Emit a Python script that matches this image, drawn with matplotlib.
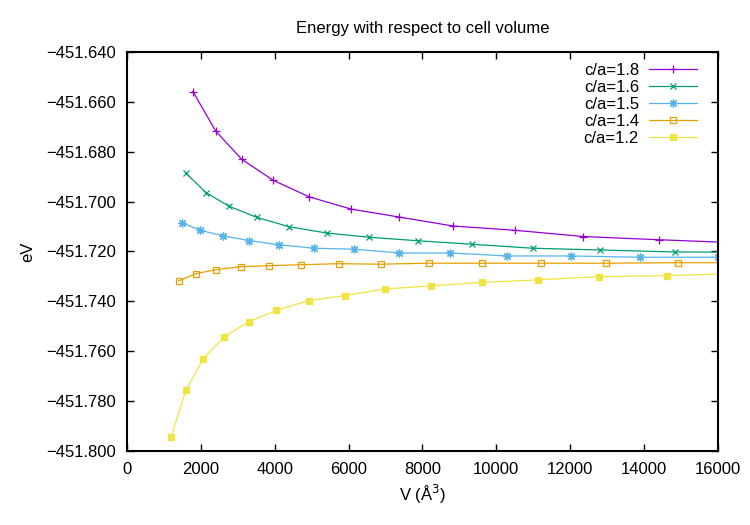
import matplotlib
matplotlib.use("Agg")
import matplotlib.pyplot as plt
from matplotlib.ticker import FuncFormatter, MultipleLocator

plt.rcParams["font.family"] = ["Liberation Sans", "DejaVu Sans"]

# cell volume (A^3) and energy (eV) per c/a ratio
v_18 = [1787, 2401, 3105, 3952, 4935, 6064, 7371, 8833, 10503, 12352, 14410, 16500]
e_18 = [-451.6559, -451.6717, -451.6830, -451.6914, -451.6981, -451.7030,
        -451.7062, -451.7098, -451.7115, -451.7140, -451.7153, -451.7165]

v_16 = [1589, 2139, 2770, 3511, 4394, 5406, 6560, 7870, 9332, 10983, 12806, 14828, 16900]
e_16 = [-451.6885, -451.6964, -451.7019, -451.7063, -451.7101, -451.7126,
        -451.7143, -451.7157, -451.7171, -451.7187, -451.7194, -451.7202, -451.7203]

v_15 = [1497, 1984, 2591, 3295, 4115, 5071, 6154, 7372, 8745, 10296, 12012, 13897, 15992]
e_15 = [-451.7085, -451.7115, -451.7137, -451.7156, -451.7173, -451.7187,
        -451.7191, -451.7206, -451.7206, -451.7218, -451.7218, -451.7223, -451.7223]

v_14 = [1400, 1868, 2409, 3078, 3844, 4719, 5731, 6877, 8176, 9611, 11208, 12976, 14909, 16900]
e_14 = [-451.7318, -451.7289, -451.7273, -451.7261, -451.7257, -451.7253, -451.7249,
        -451.7251, -451.7247, -451.7247, -451.7247, -451.7247, -451.7245, -451.7245]

v_12 = [1191, 1597, 2066, 2634, 3295, 4042, 4919, 5894, 6993, 8230, 9603, 11119, 12787, 14611, 16500]
e_12 = [-451.7945, -451.7755, -451.7630, -451.7542, -451.7482, -451.7436, -451.7397,
        -451.7377, -451.7350, -451.7338, -451.7324, -451.7314, -451.7301, -451.7297, -451.7288]

series = [
    ("c/a=1.8", v_18, e_18, "#9400d3", "+", "none", 6),
    ("c/a=1.6", v_16, e_16, "#009e73", "x", "none", 5),
    ("c/a=1.5", v_15, e_15, "#56b4e9", (8, 2, 0), "none", 6),
    ("c/a=1.4", v_14, e_14, "#e69f00", "s", "none", 5),
    ("c/a=1.2", v_12, e_12, "#f0e442", "s", "full", 5),
]

fig = plt.figure(figsize=(7.5, 5.25), dpi=100)
ax = fig.add_axes([0.1693, 0.141, 0.788, 0.760])

for label, v, e, color, marker, fill, ms in series:
    mfc = color if fill == "full" else "none"
    ax.plot(v, e, color=color, lw=0.9, marker=marker, ms=ms,
            mfc=mfc, mec=color, mew=0.9, label=label)

ax.set_xlim(0, 16000)
ax.set_ylim(-451.800, -451.640)
ax.xaxis.set_major_locator(MultipleLocator(2000))
ax.yaxis.set_major_locator(MultipleLocator(0.02))
ax.yaxis.set_major_formatter(FuncFormatter(lambda y, _: f"{y:.3f}".replace("-", "\u2212")))

ax.tick_params(direction="in", length=5, width=1, top=True, right=True,
               labelsize=12, pad=8)
for sp in ax.spines.values():
    sp.set_linewidth(1.5)

ax.set_title("Energy with respect to cell volume", fontsize=12, pad=14)
ax.set_xlabel("V (Å$^3$)", fontsize=12, labelpad=4)
ax.set_ylabel("eV", fontsize=12, labelpad=8)

ax.legend(loc="upper right", bbox_to_anchor=(0.965, 0.972), frameon=False,
          markerfirst=False, fontsize=12, handlelength=2.9, handletextpad=0.6,
          labelspacing=0.12, borderpad=0, borderaxespad=0)

fig.savefig("out.png", dpi=100)
